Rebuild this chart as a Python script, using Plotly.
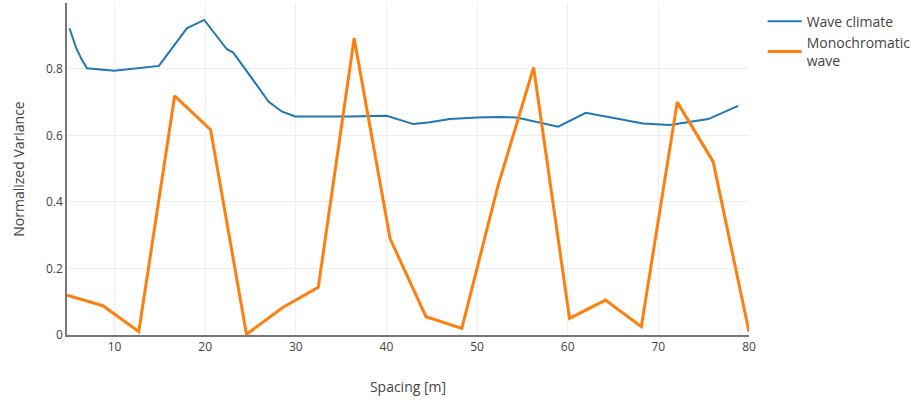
import plotly.graph_objects as go

# Wave climate: normalized variance vs. spacing
wave_climate_x = [5.04, 5.78, 6.40, 6.96, 9.97, 14.9, 17.98, 19.9, 22.4, 23.1,
                  26.0, 26.98, 28.45, 29.92, 35.99, 40.03, 42.97, 44.6, 47.0,
                  49.95, 52.5, 54.36, 58.95, 62.0, 68.3, 71.27, 75.5, 78.8]
wave_climate_y = [0.922, 0.862, 0.827, 0.802, 0.794, 0.809, 0.922, 0.947, 0.859, 0.849,
                  0.740, 0.702, 0.672, 0.657, 0.657, 0.659, 0.634, 0.639, 0.649,
                  0.654, 0.655, 0.654, 0.626, 0.668, 0.636, 0.631, 0.649, 0.689]

# Monochromatic wave: normalized variance vs. spacing
mono_x = [4.76, 8.72, 12.68, 16.64, 20.6, 24.56, 28.52, 32.48, 36.44, 40.4,
          44.36, 48.32, 52.28, 56.24, 60.2, 64.16, 68.12, 72.08, 76.04, 80.0]
mono_y = [0.120, 0.088, 0.010, 0.719, 0.617, 0.002, 0.082, 0.143, 0.892, 0.290,
          0.055, 0.020, 0.446, 0.804, 0.050, 0.105, 0.025, 0.700, 0.521, 0.010]

fig = go.Figure()
fig.add_trace(go.Scatter(x=wave_climate_x, y=wave_climate_y, mode="lines",
                         name="Wave climate",
                         line=dict(color="#1f77b4", width=2)))
fig.add_trace(go.Scatter(x=mono_x, y=mono_y, mode="lines",
                         name="Monochromatic<br>wave",
                         line=dict(color="#ff7f0e", width=3)))

axis_common = dict(showgrid=True, gridcolor="#eeeeee", gridwidth=1,
                   showline=True, linecolor="#777777", linewidth=1.5,
                   zeroline=False, ticks="",
                   tickfont=dict(size=12, color="#444444"))

fig.update_layout(
    template="none",
    width=914, height=407,
    paper_bgcolor="white", plot_bgcolor="white",
    font=dict(family="Open Sans, verdana, arial, sans-serif", size=12, color="#444444"),
    margin=dict(l=67, r=165, t=3, b=72, autoexpand=False),
    showlegend=True,
    legend=dict(x=1.02, y=0.992, xanchor="left", yanchor="top", itemwidth=34,
                font=dict(size=14, color="#444444"), bgcolor="rgba(0,0,0,0)"),
    xaxis=dict(range=[4.76, 80], tickvals=[10, 20, 30, 40, 50, 60, 70, 80],
               title=dict(text="Spacing [m]", font=dict(size=14, color="#444444"), standoff=28),
               automargin=False, **axis_common),
    yaxis=dict(range=[0, 0.998], tickvals=[0, 0.2, 0.4, 0.6, 0.8],
               ticktext=["0", "0.2", "0.4", "0.6", "0.8"],
               title=dict(text="Normalized Variance", font=dict(size=14, color="#444444"), standoff=18),
               automargin=False, **axis_common),
)

fig.write_html("out.html")
